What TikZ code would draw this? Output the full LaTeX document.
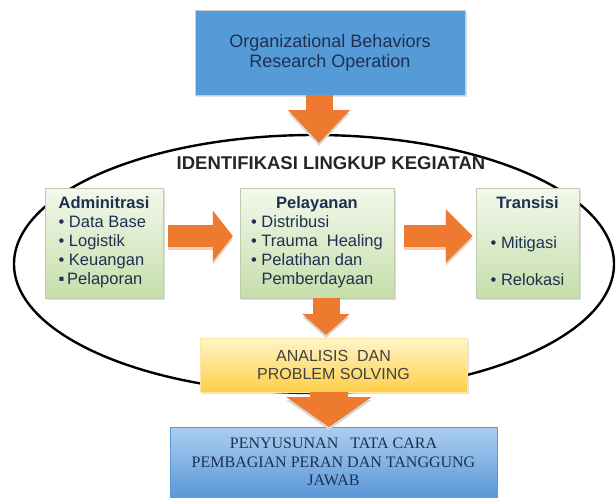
\documentclass[tikz,border=0pt]{standalone}
\usepackage{fontspec}
\setmainfont{Liberation Sans}
\newfontfamily\serifbox{Liberation Serif}
\usetikzlibrary{arrows.meta,shapes.geometric,shadows}
\definecolor{topblue}{RGB}{85,155,215}
\definecolor{navytext}{RGB}{30,48,80}
\definecolor{arroworange}{RGB}{238,122,48}
\definecolor{glowpeach}{RGB}{242,205,185}
\definecolor{glowgray}{RGB}{215,215,215}
\definecolor{greentop}{RGB}{243,248,236}
\definecolor{greenbot}{RGB}{198,222,170}
\definecolor{greenline}{RGB}{190,205,175}
\definecolor{yellowtop}{RGB}{255,245,200}
\definecolor{yellowbot}{RGB}{255,206,72}
\definecolor{bluetop}{RGB}{172,206,240}
\definecolor{bluebot}{RGB}{90,152,216}

\tikzset{
  greenbox/.style={draw=greenline, top color=greentop, bottom color=greenbot,
    minimum height=110pt, inner sep=0pt, text=navytext,
    drop shadow={opacity=0.25,shadow xshift=2pt,shadow yshift=-2pt},
    font=\fontsize{16.5}{19}\selectfont},
  blockarrow/.style n args={3}{line width=#1, arroworange,
    -{Triangle[width=#2,length=#3]}},
}

\begin{document}
\begin{tikzpicture}[x=1pt,y=-1pt]
\useasboundingbox (0,0) rectangle (616,498);

% Ellipse round the activities
\node[ellipse, draw, line width=2.4pt, minimum width=600pt, minimum height=258pt,
  inner sep=0pt] (lingkup) at (314,264) {};

% Top box
\node[draw=black!20, fill=topblue, minimum width=270pt, minimum height=85pt,
  align=center, text=navytext, font=\fontsize{18}{20}\selectfont,
  drop shadow={opacity=0.25,shadow xshift=2pt,shadow yshift=-2pt}] (obr) at (330,52.5)
  {Organizational Behaviors\\Research Operation};

% Title inside the ellipse
\node[font=\bfseries\fontsize{18.5}{20}\selectfont, text=black!85] (judul) at (331,163)
  {IDENTIFIKASI LINGKUP KEGIATAN};

% Three green boxes
\node[greenbox, minimum width=118pt] (adm) at (104,243) {\begin{tabular}{@{}l@{}}
  \textbf{Adminitrasi}\\
  \textbullet\ Data Base\\
  \textbullet\ Logistik\\
  \textbullet\ Keuangan\\
  ▪\,Pelaporan
  \end{tabular}};
\node[greenbox, minimum width=154pt] (pel) at (317,243) {\begin{tabular}{@{}l@{}}
  \multicolumn{1}{@{}c@{}}{\textbf{Pelayanan}}\\
  \textbullet\ Distribusi\\
  \textbullet\ Trauma\ \ Healing\\
  \textbullet\ Pelatihan dan\\
  \phantom{\textbullet\ }Pemberdayaan
  \end{tabular}};
\node[greenbox, minimum width=103pt] (trn) at (527.5,243) {\begin{tabular}{@{}l@{}}
  \multicolumn{1}{@{}c@{}}{\textbf{Transisi}}\\[21pt]
  \textbullet\ Mitigasi\\[18pt]
  \textbullet\ Relokasi
  \end{tabular}};

% Yellow box
\node[draw=yellowbot!50, top color=yellowtop, bottom color=yellowbot,
  minimum width=267pt, minimum height=54pt, align=center, text=black!75,
  font=\fontsize{16}{18}\selectfont,
  drop shadow={opacity=0.25,shadow xshift=2pt,shadow yshift=-2pt}] (ana) at (333.5,365)
  {ANALISIS\ \ DAN\\PROBLEM SOLVING};

% Bottom box
\node[draw=bluebot, top color=bluetop, bottom color=bluebot,
  minimum width=327pt, minimum height=70pt, align=center, text=navytext,
  font=\serifbox\fontsize{16}{18.5}\selectfont] (pny) at (333.5,462)
  {PENYUSUNAN\ \ \ TATA CARA\\PEMBAGIAN PERAN DAN TANGGUNG\\JAWAB};

% Arrows
\coordinate (tip1) at (319,143);
\draw[blockarrow={27pt}{60pt}{33pt}, glowgray, transform canvas={yshift=-3pt}]
  (obr.south -| tip1) -- (tip1);
\draw[blockarrow={27pt}{60pt}{33pt}] (obr.south -| tip1) -- (tip1);

\draw[blockarrow={22pt}{50pt}{20pt}, glowpeach, transform canvas={yshift=-3pt}]
  ([xshift=5pt,yshift=7pt]adm.east) -- ([xshift=-7pt,yshift=7pt]pel.west);
\draw[blockarrow={22pt}{50pt}{20pt}]
  ([xshift=5pt,yshift=7pt]adm.east) -- ([xshift=-7pt,yshift=7pt]pel.west);

\draw[blockarrow={22pt}{52pt}{27pt}, glowpeach, transform canvas={yshift=-3pt}]
  ([xshift=10pt,yshift=7pt]pel.east) -- ([xshift=-3pt,yshift=7pt]trn.west);
\draw[blockarrow={22pt}{52pt}{27pt}]
  ([xshift=10pt,yshift=7pt]pel.east) -- ([xshift=-3pt,yshift=7pt]trn.west);

\coordinate (tip4) at (326,335);
\draw[blockarrow={27pt}{46pt}{21pt}, glowgray, transform canvas={yshift=-3pt}]
  (pel.south -| tip4) -- (tip4);
\draw[blockarrow={27pt}{46pt}{21pt}] (pel.south -| tip4) -- (tip4);

\coordinate (tip5) at (329,427);
\draw[blockarrow={38pt}{84pt}{30pt}, glowgray, transform canvas={yshift=-3pt}]
  (ana.south -| tip5) -- (tip5);
\draw[blockarrow={38pt}{84pt}{30pt}] (ana.south -| tip5) -- (tip5);
\end{tikzpicture}
\end{document}
